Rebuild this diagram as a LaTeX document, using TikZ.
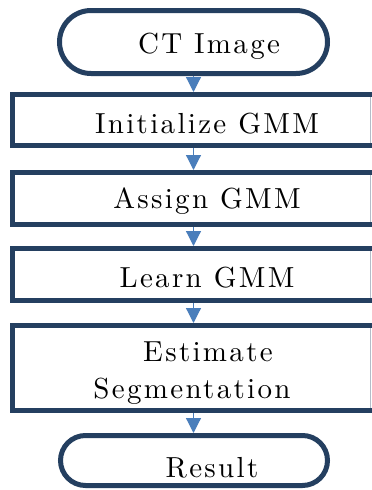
\documentclass[tikz,border=0pt]{standalone}
\usepackage{fontspec}
\newfontfamily\boxfont{lmroman10-regular.otf}[LetterSpace=8]
\usetikzlibrary{arrows.meta,shapes.misc}
\definecolor{navy}{HTML}{243F60}
\definecolor{arrowblue}{HTML}{4A7EBB}
\definecolor{edgegray}{HTML}{B4BCC8}
\begin{document}
\begin{tikzpicture}[x=1pt,y=-1pt]
\tikzset{
  txt/.style={font=\boxfont\fontsize{29}{37}\selectfont},
  term/.style={rounded rectangle, draw=navy, fill=white, line width=5pt, txt, inner sep=0pt},
  stepbox/.style={rectangle, draw=navy, fill=white, line width=5pt, txt, inner sep=0pt, minimum width=365pt},
  arr/.style={draw=arrowblue, line width=1.2pt, -{Triangle[width=15pt,length=15pt]}},
  rightedge/.style={draw=edgegray, line width=0.8pt}
}
\useasboundingbox (0,0) rectangle (372,490);
\clip (0,0) rectangle (372,490);
\fill[white] (0,0) rectangle (372,490);
\coordinate (rx) at (370.5,0);

\node[term, minimum width=268pt, minimum height=63pt, text height=22pt, text depth=0pt] (ct) at (193.5,42) {\hspace*{31pt}CT Image};
\node[stepbox, minimum height=51pt, text height=26pt, text depth=0pt] (init) at (195,120) {\hspace*{24pt}Initialize GMM};
\node[stepbox, minimum height=52pt, text height=19pt, text depth=0pt] (assign) at (195,198.5) {\hspace*{24pt}Assign GMM};
\node[stepbox, minimum height=52pt, text height=25pt, text depth=0pt] (learn) at (195,274.5) {\hspace*{24pt}Learn GMM};
\node[stepbox, minimum height=85pt, align=center] (est) at (195,368) {\rule{0pt}{30pt}\hspace*{26pt}Estimate\\Segmentation\hspace*{6pt}};
\node[term, minimum width=267pt, minimum height=50pt, text height=33pt, text depth=0pt] (res) at (194,460.5) {\hspace*{36pt}Result};

\foreach \b in {init,assign,learn,est}{
  \draw[rightedge] ([yshift=-5pt]\b.north -| rx) -- ([yshift=5pt]\b.south -| rx);
}

\draw[arr] (ct.south) -- (ct.south |- init.north);
\draw[arr] (init.south -| ct.south) -- (assign.north -| ct.south);
\draw[arr] (assign.south -| ct.south) -- (learn.north -| ct.south);
\draw[arr] (learn.south -| ct.south) -- (est.north -| ct.south);
\draw[arr] (est.south -| ct.south) -- (res.north -| ct.south);
\end{tikzpicture}
\end{document}
